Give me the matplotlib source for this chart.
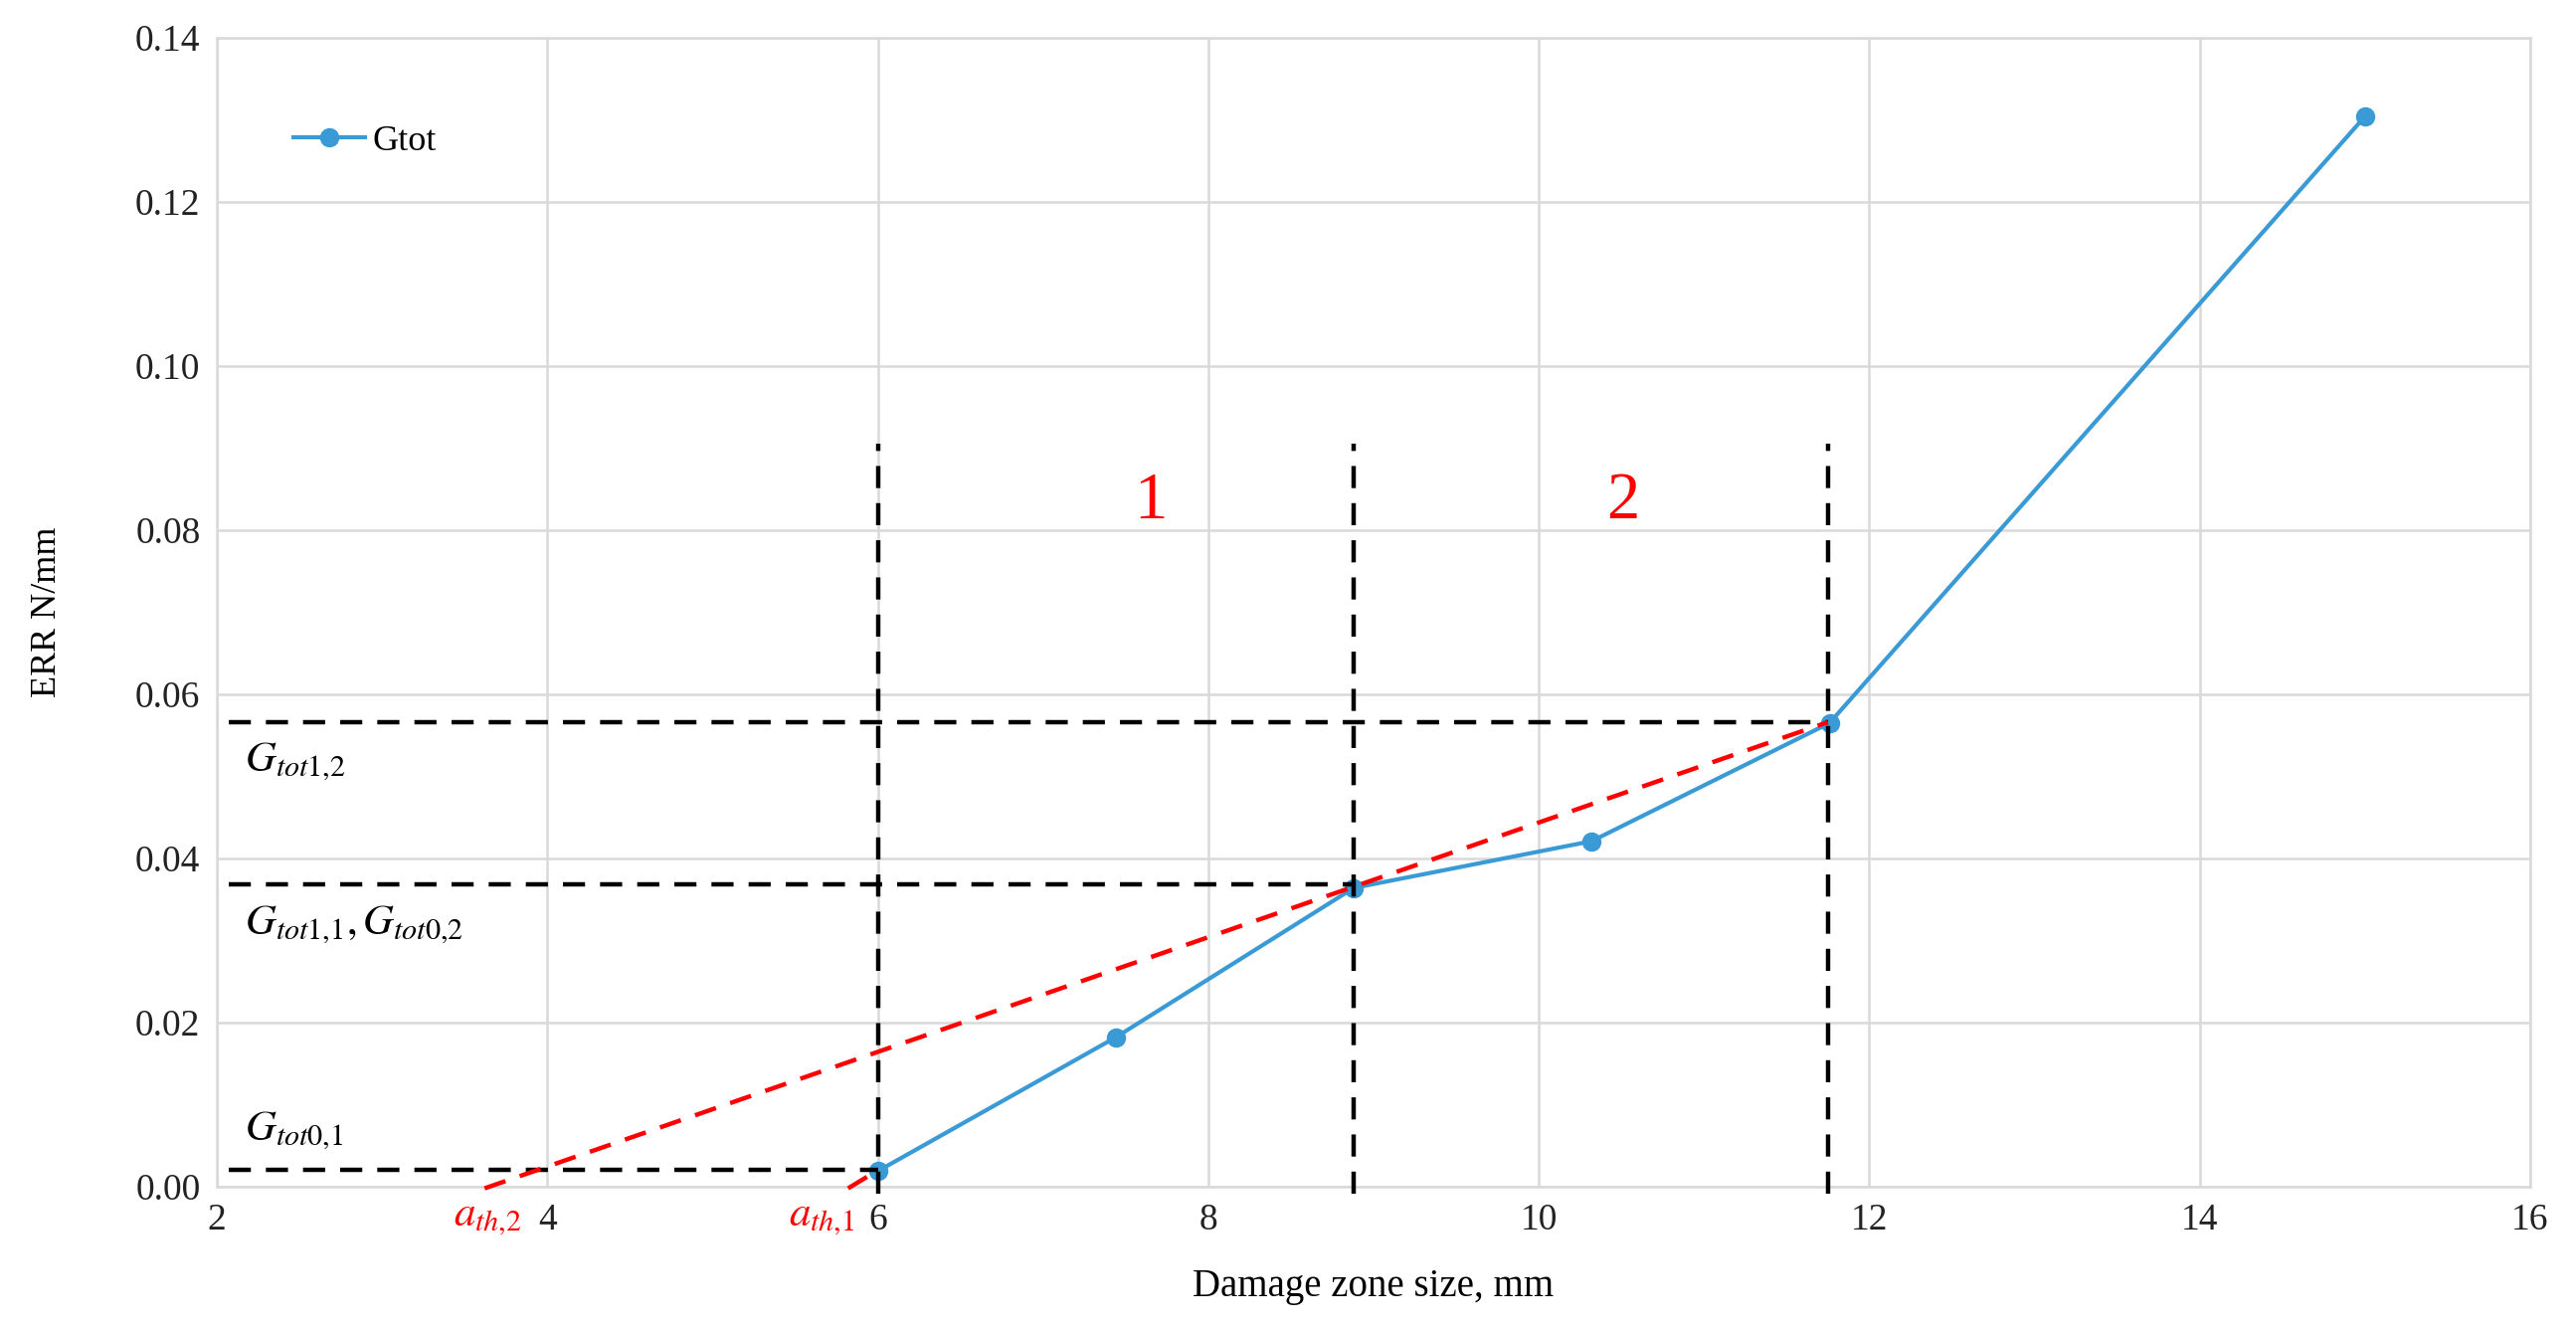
import matplotlib
matplotlib.use("Agg")
import matplotlib.pyplot as plt

# Gtot curve
damage_zone = [6.0, 7.44, 8.88, 10.32, 11.76, 15.0]
gtot = [0.0019, 0.0182, 0.0364, 0.0421, 0.0565, 0.1304]

# construction lines
a_lim = [6.0, 8.88, 11.75]          # vertical dashed lines
g_lim = [0.002, 0.0368, 0.0566]     # horizontal dashed levels
v_top = 0.0905
fit1_x = [5.82, 6.0]                # short extrapolation of segment 1
fit1_y = [-0.0002, 0.002]
fit2_x = [3.62, 11.75]
fit2_y = [-0.0002, 0.0566]

xticks = [2, 4, 6, 8, 10, 12, 14, 16]
yticks = [0.00, 0.02, 0.04, 0.06, 0.08, 0.10, 0.12, 0.14]

plt.rcParams.update({
    "font.family": "Liberation Serif",
    "mathtext.fontset": "stix",
})

GRID = "#d9d9d9"
BLUE = "#3a9ad6"
DASH = (5, 3.4)

fig = plt.figure(figsize=(25.9, 13.35), dpi=100)
ax = fig.add_axes([0.0842, 0.1064, 0.898, 0.8652])

ax.plot(damage_zone, gtot, color=BLUE, lw=3.0, marker="o", ms=13, label="Gtot", zorder=3)

# dashed construction lines
for xv, gv in zip(a_lim, g_lim):
    ax.plot([xv, xv], [-0.0009, v_top], color="black", lw=3.2, dashes=DASH, clip_on=False, zorder=4)
    ax.plot([2.07, xv], [gv, gv], color="black", lw=3.2, dashes=DASH, zorder=4)

ax.plot(fit1_x, fit1_y, color="#ff0000", lw=3.2, dashes=DASH, clip_on=False, zorder=5)
ax.plot(fit2_x, fit2_y, color="#ff0000", lw=3.2, dashes=DASH, clip_on=False, zorder=5)

# annotations
ax.text(7.65, 0.0815, "1", color="#ff0000", fontsize=48, ha="center", va="baseline")
ax.text(10.51, 0.0815, "2", color="#ff0000", fontsize=48, ha="center", va="baseline")
ax.text(2.17, 0.0507, r"$G_{tot1{,}2}$", fontsize=31, ha="left", va="baseline")
ax.text(2.17, 0.0308, r"$G_{tot1{,}1}{,}\,G_{tot0{,}2}$", fontsize=31, ha="left", va="baseline")
ax.text(2.17, 0.0057, r"$G_{tot0{,}1}$", fontsize=31, ha="left", va="baseline")
ax.text(3.64, -0.0047, r"$a_{th{,}2}$", color="#ff0000", fontsize=31, ha="center", va="baseline")
ax.text(5.66, -0.0047, r"$a_{th{,}1}$", color="#ff0000", fontsize=31, ha="center", va="baseline")

ax.set_xlim(2, 16)
ax.set_ylim(0, 0.14)
ax.set_xticks(xticks)
ax.set_yticks(yticks)
ax.set_yticklabels([f"{v:.2f}" for v in yticks])
ax.tick_params(length=0, labelsize=27, colors="#222222", pad=12)
ax.grid(True, color=GRID, lw=1.8)
ax.set_axisbelow(True)
for s in ax.spines.values():
    s.set_color(GRID)
    s.set_linewidth(1.8)

ax.set_xlabel("Damage zone size, mm", fontsize=28, labelpad=22)
ax.set_ylabel("ERR N/mm", fontsize=26, labelpad=52)

ax.legend(loc="center left", bbox_to_anchor=(0.033, 0.91), frameon=False,
          fontsize=26, handlelength=2.0, handletextpad=0.2, borderpad=0, borderaxespad=0)

plt.savefig("out.png", dpi=100)
